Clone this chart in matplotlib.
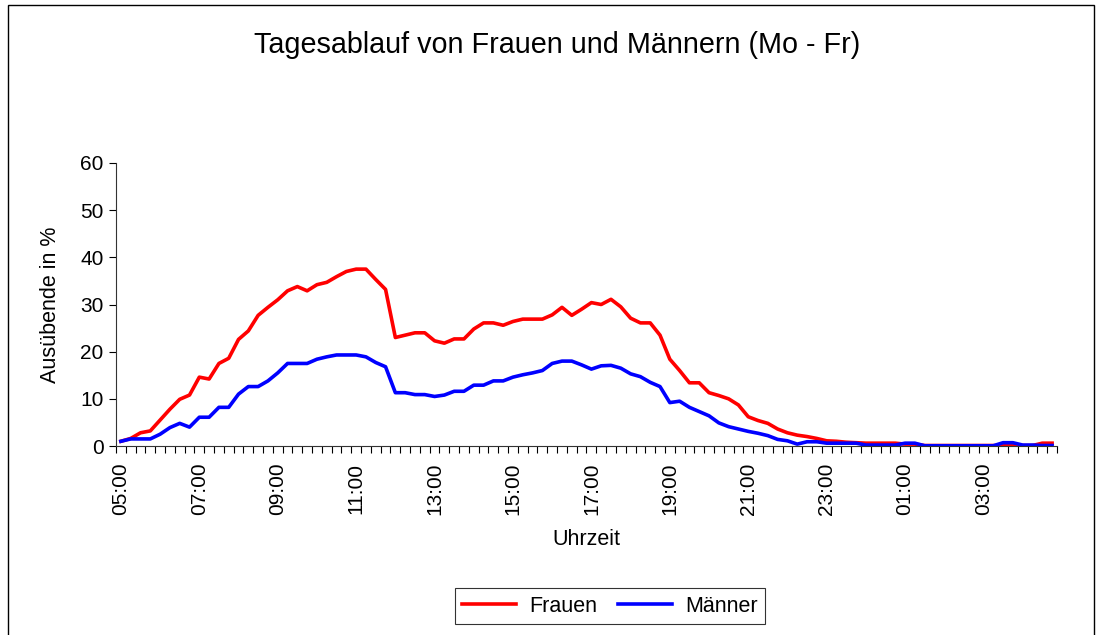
import matplotlib
matplotlib.use("Agg")
import matplotlib.pyplot as plt
from matplotlib.patches import Rectangle

plt.rcParams['font.family'] = ['Liberation Sans', 'DejaVu Sans']

# 15-minute slots starting 05:00 (96 slots = 24 h)
slots = list(range(96))
tick_pos = [0, 8, 16, 24, 32, 40, 48, 56, 64, 72, 80, 88]
tick_labels = ['05:00', '07:00', '09:00', '11:00', '13:00', '15:00',
               '17:00', '19:00', '21:00', '23:00', '01:00', '03:00']

frauen = [1.0, 1.6, 2.8, 3.2, 5.5, 7.8, 9.9, 10.8, 14.6, 14.2, 17.5, 18.6,
          22.6, 24.4, 27.7, 29.4, 31.0, 32.9, 33.8, 32.9, 34.2, 34.7, 35.9, 37.0,
          37.5, 37.5, 35.3, 33.2, 23.0, 23.5, 24.0, 24.0, 22.3, 21.8, 22.7, 22.7,
          24.8, 26.1, 26.1, 25.6, 26.4, 26.9, 26.9, 26.9, 27.8, 29.4, 27.7, 29.0,
          30.4, 30.0, 31.1, 29.5, 27.1, 26.1, 26.1, 23.5, 18.4, 16.0, 13.4, 13.4,
          11.3, 10.7, 10.0, 8.7, 6.2, 5.4, 4.8, 3.6, 2.8, 2.3, 2.0, 1.6,
          1.1, 1.0, 0.8, 0.7, 0.6, 0.6, 0.6, 0.6, 0.4, 0.4, 0.1, 0.1,
          0.1, 0.1, 0.1, 0.1, 0.1, 0.1, 0.1, 0.1, 0.1, 0.1, 0.6, 0.6]

maenner = [1.0, 1.5, 1.5, 1.5, 2.5, 3.9, 4.8, 4.0, 6.1, 6.1, 8.2, 8.2,
           11.0, 12.6, 12.6, 13.8, 15.5, 17.5, 17.5, 17.5, 18.4, 18.9, 19.3, 19.3,
           19.3, 18.9, 17.7, 16.8, 11.3, 11.3, 10.9, 10.9, 10.5, 10.8, 11.6, 11.6,
           12.9, 12.9, 13.8, 13.8, 14.6, 15.1, 15.5, 16.0, 17.5, 18.0, 18.0, 17.2,
           16.3, 17.0, 17.1, 16.5, 15.3, 14.7, 13.5, 12.6, 9.2, 9.5, 8.2, 7.3,
           6.4, 4.9, 4.1, 3.6, 3.1, 2.7, 2.2, 1.4, 1.1, 0.4, 0.9, 0.9,
           0.6, 0.6, 0.6, 0.6, 0.2, 0.2, 0.2, 0.2, 0.6, 0.6, 0.05, 0.05,
           0.05, 0.05, 0.05, 0.05, 0.05, 0.05, 0.7, 0.7, 0.2, 0.2, 0.1, 0.1]

fig = plt.figure(figsize=(10.99, 6.35), dpi=100)
ax = fig.add_axes([116/1099, 1-446/635, (1057-116)/1099, (446-163)/635])

ax.plot(slots, frauen, color='#FF0000', linewidth=2.6, label='Frauen', solid_joinstyle='round')
ax.plot(slots, maenner, color='#0000FF', linewidth=2.6, label='Männer', solid_joinstyle='round')

ax.set_xlim(-0.5, 95.5)
ax.set_ylim(0, 60)
ax.set_yticks(range(0, 61, 10))
ax.set_xticks(tick_pos)
ax.set_xticklabels(tick_labels, rotation=90)
ax.set_xticks([i - 0.5 for i in range(97)], minor=True)
ax.tick_params(axis='x', which='major', length=0, pad=12, labelsize=15)
ax.tick_params(axis='x', which='minor', length=5, width=0.8, direction='out')
ax.tick_params(axis='y', length=5, width=0.8, direction='out', labelsize=15, pad=4)

for s in ['top', 'right']:
    ax.spines[s].set_visible(False)
for s in ['left', 'bottom']:
    ax.spines[s].set_linewidth(0.8)
    ax.spines[s].set_color('#333333')

ax.set_ylabel('Ausübende in %', fontsize=15.5, labelpad=14)
ax.set_xlabel('Uhrzeit', fontsize=15.5, labelpad=10)

fig.text(557/1099, 1-45/635, 'Tagesablauf von Frauen und Männern (Mo - Fr)',
         ha='center', va='center', fontsize=20.7)

leg = fig.legend(loc='center', bbox_to_anchor=(610/1099, 1-606/635), ncol=2,
                 fontsize=15.5, frameon=True, fancybox=False, edgecolor='black',
                 handlelength=2.5, handletextpad=0.6, columnspacing=1.0,
                 borderpad=0.35)
leg.get_frame().set_linewidth(0.8)

# outer chart border
fig.patches.append(Rectangle((8/1099, -0.05), (1094-8)/1099, 1.05 - 5/635,
                             transform=fig.transFigure, fill=False,
                             edgecolor='black', linewidth=1.0))

fig.savefig('out.png', dpi=100)
